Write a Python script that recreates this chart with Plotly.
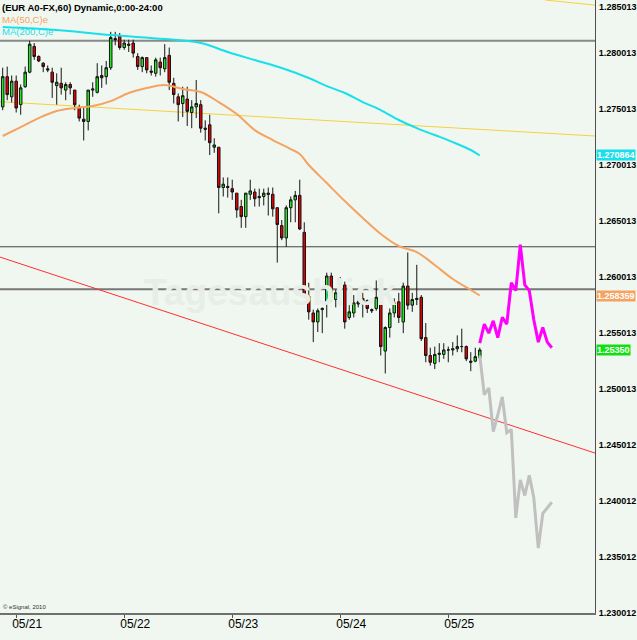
import pandas as pd
import plotly.graph_objects as go

# ---------------- data ----------------
start = pd.Timestamp("2010-05-20 21:00")   # first hourly bar

opens = [1.2752,1.2779,1.2761,1.2775,1.2754,1.2770,1.2783,1.2806,1.2797,1.2791,
         1.2786,1.2783,1.2771,1.2773,1.2767,1.2772,1.2767,1.2751,1.2741,1.2739,
         1.2767,1.2765,1.2780,1.2779,1.2787,1.2813,1.2815,1.2805,1.2808,1.2809,
         1.2797,1.2788,1.2796,1.2784,1.2782,1.2792,1.2786,1.2798,1.2773,1.2761,
         1.2755,1.2759,1.2747,1.2752,1.2754,1.2733,1.2736,1.2716,1.2716,1.2680,
         1.2681,1.2679,1.2675,1.2663,1.2654,1.2674,1.2676,1.2672,1.2672,1.2675,
         1.2674,1.2662,1.2646,1.2635,1.2662,1.2669,1.2673,1.2640,1.2583,1.2568,
         1.2560,1.2571,1.2578,1.2601,1.2580,1.2586,1.2593,1.2564,1.2568,1.2578,
         1.2576,1.2579,1.2571,1.2572,1.2582,1.2534,1.2555,1.2568,1.2578,1.2560,
         1.2592,1.2575,1.2580,1.2582,1.2546,1.2530,1.2523,1.2531,1.2531,1.2535,
         1.2535,1.2536,1.2538,1.2538,1.2525,1.2525,1.2528]
highs = [1.2787,1.2788,1.2780,1.2780,1.2772,1.2788,1.2811,1.2809,1.2798,1.2792,
         1.2789,1.2787,1.2782,1.2787,1.2774,1.2774,1.2767,1.2754,1.2752,1.2767,
         1.2774,1.2791,1.2789,1.2793,1.2819,1.2819,1.2818,1.2812,1.2812,1.2812,
         1.2800,1.2797,1.2796,1.2789,1.2796,1.2796,1.2808,1.2805,1.2778,1.2764,
         1.2770,1.2770,1.2758,1.2776,1.2758,1.2740,1.2745,1.2724,1.2716,1.2689,
         1.2689,1.2687,1.2675,1.2669,1.2675,1.2687,1.2679,1.2679,1.2679,1.2680,
         1.2680,1.2662,1.2651,1.2664,1.2672,1.2677,1.2687,1.2649,1.2595,1.2571,
         1.2572,1.2573,1.2604,1.2604,1.2589,1.2600,1.2596,1.2575,1.2584,1.2581,
         1.2586,1.2580,1.2572,1.2597,1.2586,1.2556,1.2572,1.2581,1.2586,1.2595,
         1.2622,1.2586,1.2611,1.2584,1.2559,1.2537,1.2538,1.2541,1.2541,1.2538,
         1.2542,1.2548,1.2554,1.2539,1.2533,1.2537,1.2537]
lows = [1.2749,1.2758,1.2756,1.2747,1.2745,1.2769,1.2782,1.2794,1.2792,1.2783,
        1.2783,1.2760,1.2754,1.2763,1.2758,1.2763,1.2749,1.2739,1.2722,1.2731,
        1.2761,1.2764,1.2769,1.2772,1.2785,1.2807,1.2803,1.2803,1.2801,1.2796,
        1.2785,1.2783,1.2782,1.2780,1.2779,1.2780,1.2783,1.2767,1.2755,1.2739,
        1.2743,1.2735,1.2733,1.2742,1.2729,1.2722,1.2709,1.2711,1.2657,1.2672,
        1.2671,1.2669,1.2653,1.2644,1.2644,1.2669,1.2663,1.2663,1.2664,1.2655,
        1.2654,1.2613,1.2633,1.2627,1.2649,1.2649,1.2642,1.2582,1.2562,1.2542,
        1.2551,1.2550,1.2564,1.2578,1.2573,1.2575,1.2554,1.2562,1.2564,1.2573,
        1.2564,1.2568,1.2568,1.2570,1.2530,1.2514,1.2546,1.2564,1.2559,1.2550,
        1.2571,1.2569,1.2575,1.2543,1.2524,1.2521,1.2518,1.2524,1.2527,1.2524,
        1.2530,1.2533,1.2533,1.2525,1.2516,1.2524,1.2527]
closes = [1.2779,1.2763,1.2775,1.2751,1.2769,1.2783,1.2808,1.2797,1.2793,1.2788,
          1.2785,1.2774,1.2774,1.2769,1.2772,1.2769,1.2754,1.2742,1.2739,1.2767,
          1.2768,1.2779,1.2778,1.2787,1.2814,1.2812,1.2805,1.2809,1.2807,1.2800,
          1.2788,1.2796,1.2785,1.2783,1.2794,1.2787,1.2796,1.2774,1.2763,1.2754,
          1.2762,1.2748,1.2752,1.2755,1.2733,1.2732,1.2720,1.2718,1.2680,1.2683,
          1.2680,1.2676,1.2660,1.2654,1.2675,1.2677,1.2670,1.2671,1.2675,1.2674,
          1.2661,1.2647,1.2635,1.2662,1.2669,1.2673,1.2643,1.2584,1.2569,1.2560,
          1.2570,1.2572,1.2601,1.2582,1.2586,1.2592,1.2560,1.2569,1.2577,1.2576,
          1.2581,1.2572,1.2570,1.2582,1.2538,1.2555,1.2568,1.2577,1.2564,1.2592,
          1.2575,1.2580,1.2581,1.2545,1.2530,1.2524,1.2531,1.2532,1.2535,1.2535,
          1.2536,1.2538,1.2538,1.2527,1.2524,1.2529,1.2535]

# moving averages (bar index, value)
ma50_idx = [0, 4, 8, 12, 16, 20, 24, 28, 32, 36, 40, 44, 48, 52, 56, 60, 64, 66, 68,
            72, 76, 80, 84, 88, 92, 96, 100, 104, 106]
ma50_val = [1.27260, 1.27340, 1.27420, 1.27483, 1.27510, 1.27528, 1.27572, 1.27644,
            1.27688, 1.27715, 1.27679, 1.27653, 1.27563, 1.27456, 1.27313, 1.27224,
            1.27144, 1.27099, 1.27001, 1.26840, 1.26679, 1.26528, 1.26385, 1.26278,
            1.26224, 1.26108, 1.25983, 1.25885, 1.258359]
ma200_idx = [0, 12, 24, 36, 44, 50, 56, 62, 68, 72, 76, 80, 84, 88, 92, 96, 100, 104, 106]
ma200_val = [1.28233, 1.28206, 1.28161, 1.28126, 1.28090, 1.28010, 1.27938, 1.27867,
             1.27778, 1.27706, 1.27644, 1.27563, 1.27492, 1.27403, 1.27331, 1.27269,
             1.27206, 1.27135, 1.270864]

# projections (bar index 106 .. 122)
proj_idx = list(range(106, 123))
proj_up = [1.2541, 1.2558, 1.2550, 1.2561, 1.2546, 1.2564, 1.2558, 1.2595, 1.2588,
           1.2629, 1.2593, 1.2588, 1.2562, 1.2542, 1.2555, 1.2542, 1.2537]
proj_down = [1.2530, 1.2495, 1.2501, 1.2462, 1.2477, 1.2493, 1.2461, 1.2464, 1.2385,
             1.2419, 1.2405, 1.2423, 1.2403, 1.2358, 1.2389, 1.2394, 1.2399]

# horizontal support/resistance levels
h_levels = [1.28111, 1.26271, 1.25891]
# trend lines: (bar index start, price start, bar index end, price end)
red_trend = (-0.6, 1.26179, 131.6, 1.24429)
yellow_trend = (-0.6, 1.27566, 131.6, 1.27260)
yellow_top = (120.5, 1.28474, 131.6, 1.28429)

day_labels = ["05/21", "05/22", "05/23", "05/24", "05/25"]
day_starts = pd.date_range("2010-05-21", periods=5, freq="D")

ytick_vals = [1.230012, 1.235012, 1.240012, 1.245012, 1.250013, 1.255013,
              1.260013, 1.265013, 1.270013, 1.275013, 1.280013]
ytick_text = ["1.230012", "1.235012", "1.240012", "1.245012", "1.250013", "1.255013",
              "1.260013", "1.265013", "1.270013", "1.275013", "1.280013"]
top_label = "1.285013"
last_price = 1.25350

# ---------------- build ----------------
def t(i):
    return start + pd.to_timedelta(i, unit="h")

times = [t(i) for i in range(len(opens))]

BG = "#f0f7f0"
fig = go.Figure()

fig.add_trace(go.Candlestick(
    x=times, open=opens, high=highs, low=lows, close=closes,
    increasing=dict(fillcolor="#22e822", line=dict(color="#151515", width=1)),
    decreasing=dict(fillcolor="#e00000", line=dict(color="#151515", width=1)),
    whiskerwidth=0, showlegend=False, hoverinfo="skip"))

fig.add_trace(go.Scatter(x=[t(i) for i in ma50_idx], y=ma50_val, mode="lines",
                         line=dict(color="#f4a460", width=2, shape="spline"),
                         showlegend=False, hoverinfo="skip"))
fig.add_trace(go.Scatter(x=[t(i) for i in ma200_idx], y=ma200_val, mode="lines",
                         line=dict(color="#18e0ea", width=2, shape="spline"),
                         showlegend=False, hoverinfo="skip"))
fig.add_trace(go.Scatter(x=[t(i) for i in proj_idx], y=proj_down, mode="lines",
                         line=dict(color="#c0c0c0", width=3),
                         showlegend=False, hoverinfo="skip"))
fig.add_trace(go.Scatter(x=[t(i) for i in proj_idx], y=proj_up, mode="lines",
                         line=dict(color="#ff00ff", width=3),
                         showlegend=False, hoverinfo="skip"))

shapes = []
for lv, col, w in zip(h_levels, ["#888888", "#444444", "#777777"], [2, 1, 2]):
    shapes.append(dict(type="line", xref="paper", x0=0, x1=1, yref="y", y0=lv, y1=lv,
                       line=dict(color=col, width=w), layer="below"))
for (i0, p0, i1, p1), col in [(red_trend, "#ff3030"), (yellow_trend, "#f5d040"),
                              (yellow_top, "#f5d040")]:
    shapes.append(dict(type="line", xref="x", yref="y", x0=t(i0), y0=p0, x1=t(i1), y1=p1,
                       line=dict(color=col, width=1), layer="below"))

FONT = "Liberation Sans, Arial, sans-serif"
NARROW = "Liberation Sans Narrow, Arial Narrow, Liberation Sans, sans-serif"
ann = []
ann.append(dict(text="Tagesausblick", xref="paper", yref="y", x=0.455, y=1.25865,
                showarrow=False, font=dict(family=FONT, size=37, color="#e7eee7", weight="bold")))
ann.append(dict(text="(EUR A0-FX,60) Dynamic,0:00-24:00", xref="paper", yref="paper",
                x=0, y=1, xanchor="left", yanchor="top", yshift=0, showarrow=False,
                font=dict(family=FONT, size=9.5, color="#000000", weight="bold")))
ann.append(dict(text="MA(50,C)e", xref="paper", yref="paper", x=0, y=1, xanchor="left",
                yanchor="top", yshift=-12, showarrow=False,
                font=dict(family=FONT, size=9.5, color="#f4a460")))
ann.append(dict(text="MA(200,C)e", xref="paper", yref="paper", x=0, y=1, xanchor="left",
                yanchor="top", yshift=-24, showarrow=False,
                font=dict(family=FONT, size=9.5, color="#18e0ea")))
ann.append(dict(text="© eSignal, 2010", xref="paper", yref="paper", x=0, y=0,
                xanchor="left", yanchor="bottom", xshift=1, yshift=1, showarrow=False,
                font=dict(family=FONT, size=6, color="#333333")))
ann.append(dict(text=top_label, xref="paper", yref="paper", x=1, y=1, xanchor="left",
                yanchor="top", xshift=2, yshift=0, showarrow=False,
                font=dict(family=FONT, size=9, color="#000000", weight="bold")))
for val, bg in [(ma200_val[-1], "#18e0ea"), (ma50_val[-1], "#f4a460"), (last_price, "#10e010")]:
    txt = f"{val:.6f}" if bg != "#10e010" else f"{val:.5f}"
    ann.append(dict(text=txt, xref="paper", yref="y", x=1, y=val, xanchor="left",
                    yanchor="middle", xshift=1, showarrow=False, bgcolor=bg, borderpad=0,
                    font=dict(family=FONT, size=9, color="#ffffff", weight="bold")))

fig.update_layout(
    width=637, height=640,
    margin=dict(l=0, r=42, t=0, b=27, autoexpand=False),
    paper_bgcolor=BG, plot_bgcolor=BG,
    shapes=shapes, annotations=ann,
    boxgap=0.2,
    xaxis=dict(type="date", range=[t(-0.6), t(131.6)], rangeslider=dict(visible=False),
               tickvals=list(day_starts), ticktext=day_labels, ticks="outside",
               ticklen=3, tickcolor="#555555", ticklabelshift=11, ticklabelstandoff=-4,
               tickfont=dict(family=NARROW, size=12, color="#000000"),
               showline=True, linecolor="#707070", linewidth=2, automargin=False,
               showgrid=False, zeroline=False, fixedrange=True),
    yaxis=dict(side="right", range=[1.230012, 1.284744], tickvals=ytick_vals,
               ticktext=ytick_text, ticks="", ticklabelstandoff=1, automargin=False,
               tickfont=dict(family=FONT, size=9, color="#000000", weight="bold"),
               showline=True, linecolor="#505050", linewidth=1,
               showgrid=False, zeroline=False, fixedrange=True),
)

fig.write_html("out.html", config={"displayModeBar": False},
               post_script="document.body.style.margin='0px';document.body.style.padding='0px';")
